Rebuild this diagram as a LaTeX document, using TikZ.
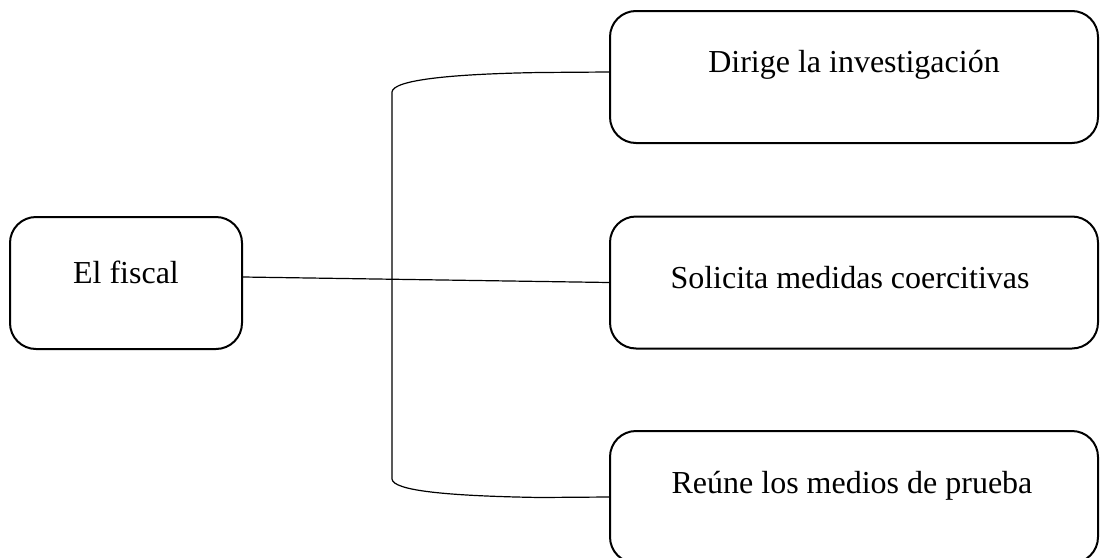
\documentclass[tikz,border=0pt]{standalone}
\usepackage{fontspec}
\setmainfont{Liberation Serif}
\begin{document}
\begin{tikzpicture}[x=1pt,y=-1pt,
  boxstyle/.style={draw=black, line width=2pt, rounded corners=26pt, minimum width=#1, minimum height=132pt, inner sep=0pt},
  lbl/.style={font=\fontsize{32}{38}\selectfont, anchor=base, inner sep=0pt},
  conn/.style={draw=black, line width=1.2pt}]
\useasboundingbox (0,0) rectangle (1100,557);
\begin{scope}
\clip (0,0) rectangle (1100,557);
\node[boxstyle=232pt] (fiscal) at (126,283) {};
\node[boxstyle=488pt] (dirige) at (854,77) {};
\node[boxstyle=488pt] (solicita) at (854,282.5) {};
\node[boxstyle=488pt] (reune) at (854,497) {};
\end{scope}
\node[lbl] (tfiscal) at (126,283) {El fiscal};
\node[lbl] (tdirige) at (854,72) {Dirige la investigación};
\node[lbl] (tsolicita) at (850,288) {Solicita medidas coercitivas};
\node[lbl] (treune) at (852,493) {Reúne los medios de prueba};
\draw[conn] ([yshift=6pt]fiscal.east) -- (solicita.west);
\coordinate (b1) at (540,72.5);
\coordinate (b2) at (392,92);
\coordinate (b3) at (392,479);
\coordinate (b4) at (540,497.5);
\draw[conn] ([yshift=5pt]dirige.west) -- (b1) .. controls (450,74) and (393,80) .. (b2) -- (b3) .. controls (393,491) and (450,496) .. (b4) -- (reune.west);
\end{tikzpicture}
\end{document}
